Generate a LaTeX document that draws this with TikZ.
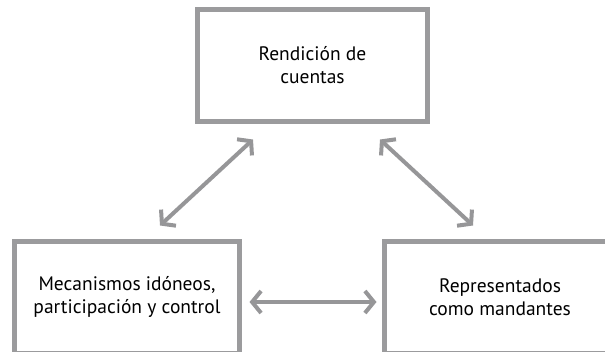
\documentclass[tikz,border=0pt]{standalone}
\usepackage{fontspec}
\setmainfont{PT Sans}
\usetikzlibrary{arrows.meta}
\definecolor{boxgray}{RGB}{155,155,157}
\definecolor{arrgray}{RGB}{150,150,152}
\tikzset{
  box/.style={draw=boxgray, line width=5pt, fill=white, minimum width=#1, minimum height=112pt,
    align=center, inner sep=0pt, font=\fontsize{19.5}{23}\selectfont, text=black},
  arr/.style={draw=arrgray, line width=4pt,
    {Straight Barb[length=9pt,width=22pt]}-{Straight Barb[length=9pt,width=22pt]}}
}
\begin{document}
\begin{tikzpicture}[x=1pt,y=-1pt]
\useasboundingbox (0,0) rectangle (605,351);
\clip (0,0) rectangle (605,351);
\node[box=230pt] (top) at (312.5,65.5) {Rendición de\\cuentas};
\node[box=225pt] (ml) at (127,297) {Mecanismos idóneos,\\participación y control};
\node[box=231pt] (mr) at (500,297) {Representados\\como mandantes};
\draw[arr] ([xshift=33pt,yshift=13pt]ml.north) -- ([xshift=-59.5pt,yshift=-15.5pt]top.south);
\draw[arr] ([xshift=67.5pt,yshift=-15.5pt]top.south) -- ([xshift=-27pt,yshift=13pt]mr.north);
\draw[arr] ([xshift=7.5pt,yshift=-5pt]ml.east) -- ([xshift=-5.5pt,yshift=-5pt]mr.west);
\end{tikzpicture}
\end{document}
